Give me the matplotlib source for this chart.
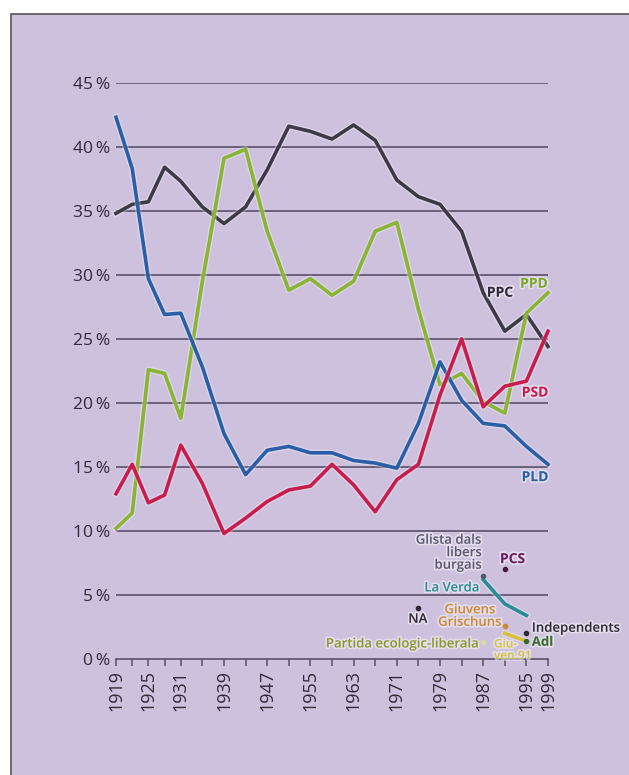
import matplotlib
matplotlib.use("Agg")
import matplotlib.pyplot as plt
import matplotlib.patheffects as pe
from matplotlib.patches import Rectangle

plt.rcParams.update({"font.family": ["Open Sans", "DejaVu Sans"], "font.size": 12})

BG = "#cdc1de"
GRID = "#5a5068"

years = [1919, 1922, 1925, 1928, 1931, 1935, 1939, 1943, 1947, 1951, 1955,
         1959, 1963, 1967, 1971, 1975, 1979, 1983, 1987, 1991, 1995, 1999]
label_years = [1919, 1925, 1931, 1939, 1947, 1955, 1963, 1971, 1979, 1987, 1995, 1999]

ppc = [34.8, 35.5, 35.7, 38.4, 37.3, 35.3, 34.0, 35.3, 38.2, 41.6, 41.2,
       40.6, 41.7, 40.5, 37.4, 36.1, 35.5, 33.4, 28.6, 25.6, 26.9, 24.4]
ppd = [10.2, 11.4, 22.6, 22.3, 18.8, 29.5, 39.1, 39.8, 33.4, 28.8, 29.7,
       28.4, 29.5, 33.4, 34.1, 27.3, 21.4, 22.3, 20.1, 19.2, 27.0, 28.6]
pld = [42.3, 38.3, 29.7, 26.9, 27.0, 22.8, 17.6, 14.4, 16.3, 16.6, 16.1,
       16.1, 15.5, 15.3, 14.9, 18.4, 23.2, 20.2, 18.4, 18.2, 16.6, 15.2]
psd = [12.9, 15.2, 12.2, 12.8, 16.7, 13.7, 9.8, 11.0, 12.3, 13.2, 13.5,
       15.2, 13.6, 11.5, 14.0, 15.2, 20.6, 25.0, 19.7, 21.3, 21.7, 25.6]

# small parties
verda_years = [1987, 1991, 1995]
verda = [6.2, 4.3, 3.4]
giuven91_years = [1991, 1995]
giuven91 = [2.0, 1.4]
dots = {  # name: (year, value, colour)
    "glista": (1987, 6.5, "#4e5a6a"),
    "pcs": (1991, 7.0, "#4a1a44"),
    "na": (1975, 4.0, "#2b2b35"),
    "giuvens": (1991, 2.6, "#c98a35"),
    "partida": (1987, 1.3, "#d8d8b0"),
    "indep": (1995, 2.0, "#2b2b35"),
    "adl": (1995, 1.4, "#3a6a2a"),
}

fig = plt.figure(figsize=(6.29, 7.75), dpi=100)
fig.patch.set_facecolor("white")
fig.patches.append(Rectangle((11 / 629, -0.01), 1.0, (775 - 14) / 775 + 0.01,
                             transform=fig.transFigure, facecolor=BG,
                             edgecolor="#555555", lw=1.2, zorder=-5))

ax = fig.add_axes([116 / 629, (775 - 659) / 775, 432 / 629, (659 - 82.7) / 775])
ax.set_facecolor("none")
ax.set_xlim(1919, 1999)
ax.set_ylim(0, 45)
for s in ["top", "right", "left"]:
    ax.spines[s].set_visible(False)
ax.spines["bottom"].set_color(GRID)
ax.spines["bottom"].set_linewidth(1.2)

ax.set_yticks(range(0, 50, 5))
ax.set_yticklabels([f"{v}\u2009%" for v in range(0, 50, 5)], color="#2e2a36", fontsize=12.5)
ax.tick_params(axis="y", length=0, pad=4)
for v in range(5, 50, 5):
    ax.axhline(v, color=GRID, lw=1.2, zorder=1)

ax.set_xticks(years, minor=True)
ax.set_xticks(label_years)
ax.set_xticklabels([str(y) for y in label_years], rotation=90, color="#2e2a36", fontsize=13)
ax.tick_params(axis="x", which="both", direction="out", length=5, width=1.1, color=GRID, pad=3)

halo = [pe.Stroke(linewidth=4.6, foreground="white", alpha=0.3, joinstyle="round"), pe.Normal()]
series = [(ppc, "#3d3a48"), (ppd, "#8ab534"), (pld, "#2a5ea6"), (psd, "#c81d4c")]
for vals, col in series:
    ax.plot(years, vals, color=col, lw=2.6, solid_joinstyle="round",
            clip_on=False, zorder=3, path_effects=halo)

ax.plot(verda_years, verda, color="#2a8c96", lw=2.6, clip_on=False, zorder=3, path_effects=halo)
ax.plot(giuven91_years, giuven91, color="#d6c23a", lw=2.6, clip_on=False, zorder=3, path_effects=halo)
for name, (yr, v, col) in dots.items():
    ax.plot([yr], [v], "o", color=col, ms=3, clip_on=False, zorder=4)

txt_halo = [pe.withStroke(linewidth=2.5, foreground="white", alpha=0.45)]


def label(x, y, s, col, size=10, ha="left", weight="bold", **kw):
    ax.text(x, y, s, color=col, fontsize=size, ha=ha, va="center", fontweight=weight,
            path_effects=txt_halo, zorder=5, **kw)


label(1990.1, 28.6, "PPC", "#2e2b38", ha="center")
label(1996.4, 29.3, "PPD", "#7ea82c", ha="center")
label(1996.6, 20.8, "PSD", "#c81d4c", ha="center")
label(1996.6, 14.2, "PLD", "#2a5ea6", ha="center")

label(1986.8, 8.3, "Glista dals\nlibers\nburgais", "#5a5a6e", size=9.5, ha="right",
      weight="semibold", linespacing=0.95, multialignment="right")
label(1990.1, 7.8, "PCS", "#6a1d5c", size=10)
label(1986.4, 5.55, "La Verda", "#2a8c96", size=9.5, ha="right", weight="semibold")
label(1974.9, 3.1, "NA", "#2b2b35", size=9.5, ha="center", weight="semibold")
label(1990.5, 3.35, "Giuvens\nGrischuns", "#c98a35", size=9.5, ha="right",
      weight="semibold", linespacing=0.95, multialignment="center")
label(1986.4, 1.17, "Partida ecologic-liberala", "#8a9a30", size=9.5, ha="right", weight="semibold")
label(1989.0, 0.72, "Giu-\nven.91", "#d6c23a", size=8.5, weight="semibold", linespacing=0.85)
label(1996.0, 2.4, "Independents", "#2b2b35", size=9.5, weight="semibold")
label(1996.0, 1.3, "Adl", "#3a6a2a", size=9.5)

fig.savefig("out.png", dpi=100, facecolor=fig.get_facecolor())
